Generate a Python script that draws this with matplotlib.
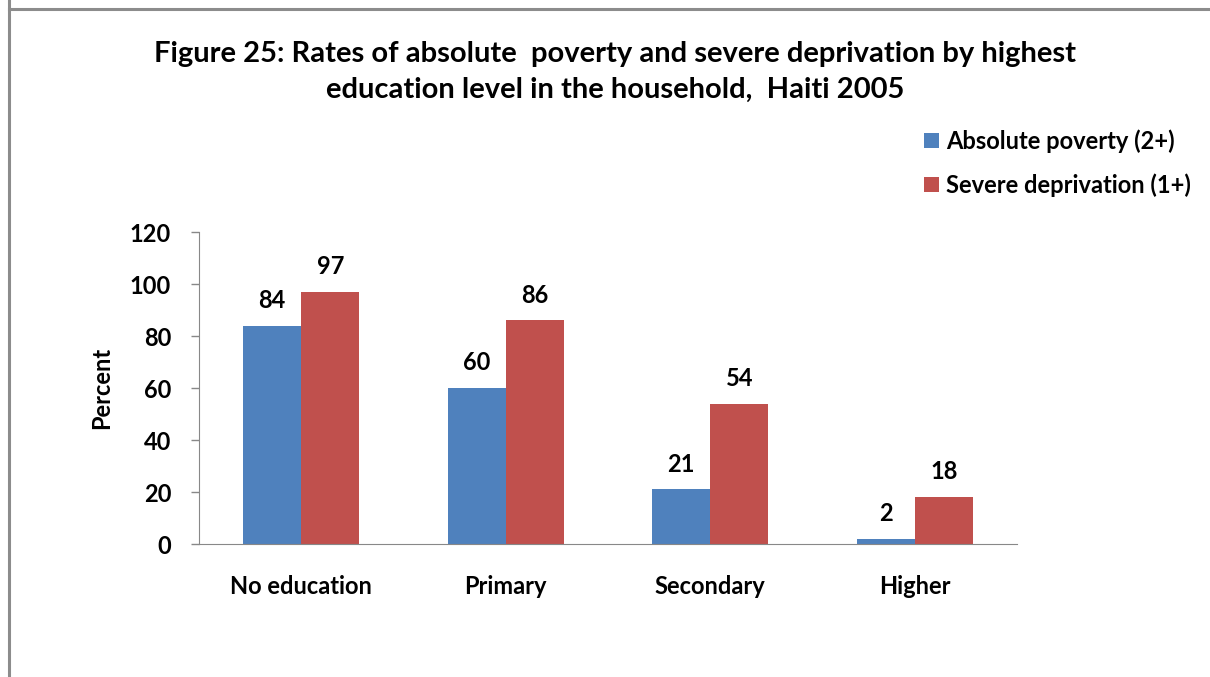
import matplotlib.pyplot as plt
import numpy as np

# Haiti 2005, percent of households by highest education level
categories = ["No education", "Primary", "Secondary", "Higher"]
absolute_poverty = [84, 60, 21, 2]
severe_deprivation = [97, 86, 54, 18]
series_names = ["Absolute poverty (2+)", "Severe deprivation (1+)"]
yticks = [0, 20, 40, 60, 80, 100, 120]

plt.rcParams['font.family'] = ['Lato', 'DejaVu Sans']
plt.rcParams['font.weight'] = 'bold'

fig = plt.figure(figsize=(12.1, 6.77), dpi=100)

# grey outer frame lines (left and top)
fig.add_artist(plt.Line2D([9/1210, 9/1210], [0, 1], color='#8c8c8c', lw=2.2))
fig.add_artist(plt.Line2D([9/1210, 1], [1 - 9/677, 1 - 9/677], color='#8c8c8c', lw=2.2))

ax = fig.add_axes([199/1210, 1 - 544/677, (1017 - 199)/1210, (544 - 232)/677])

x = np.arange(len(categories))
w = 0.284
b1 = ax.bar(x - w/2, absolute_poverty, w, color='#4F81BD', label=series_names[0])
b2 = ax.bar(x + w/2, severe_deprivation, w, color='#C0504D', label=series_names[1])

for bars, vals in ((b1, absolute_poverty), (b2, severe_deprivation)):
    for bar, v in zip(bars, vals):
        ax.annotate(str(v), (bar.get_x() + bar.get_width()/2, v),
                    xytext=(0, 10), textcoords='offset points',
                    ha='center', va='bottom', fontsize=17, fontweight='bold')

ax.set_xlim(-0.5, len(categories) - 0.5)
ax.set_ylim(0, 120)
ax.set_yticks(yticks)
ax.set_xticks(x)
ax.set_xticklabels(categories)
ax.tick_params(axis='x', length=0, pad=22, labelsize=17)
ax.tick_params(axis='y', length=6, width=1, color='#888888', pad=14, labelsize=17)
for s in ['top', 'right']:
    ax.spines[s].set_visible(False)
for s in ['left', 'bottom']:
    ax.spines[s].set_color('#888888')
ax.set_ylabel('Percent', fontsize=17, fontweight='bold', labelpad=12)

fig.text(615/1210, 1 - 72/677,
         "Figure 25: Rates of absolute  poverty and severe deprivation by highest\n"
         "education level in the household,  Haiti 2005",
         ha='center', va='center', fontsize=21, fontweight='bold', linespacing=1.5)

fig.legend(handles=[b1, b2], loc='upper left', bbox_to_anchor=(915/1210, 1 - 120/677),
           frameon=False, fontsize=17, handlelength=0.6, handleheight=0.6,
           handletextpad=0.3, labelspacing=0.85, borderaxespad=0)

fig.savefig('out.png', dpi=100)
